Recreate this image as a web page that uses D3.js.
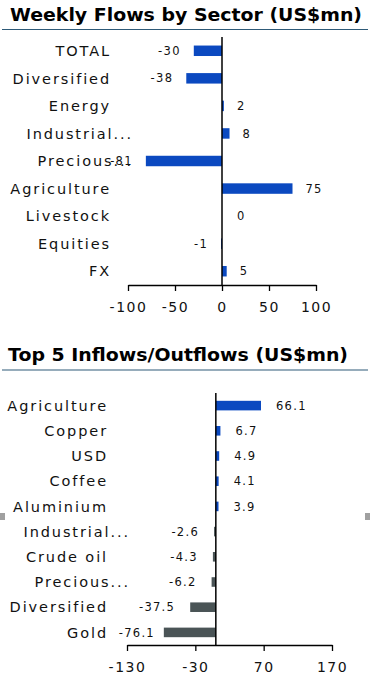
<!DOCTYPE html>
<html>
  <head>
    <meta charset="utf-8">
    <title>Weekly Flows by Sector</title>
    <script src="https://cdn.jsdelivr.net/npm/d3@7"></script>
    <style>
      body { margin: 0; background: white; }
      .title {
        font-family: 'DejaVu Sans';
        font-size: 18px;
        font-weight: bold;
        fill: #000;
      }
      .rule { stroke: #2e5a78; stroke-width: 1.2; }
      .cat {
        font-family: 'DejaVu Sans';
        font-size: 14.5px;
        letter-spacing: 1.9px;
        fill: #111;
        text-anchor: end;
      }
      .val {
        font-family: 'DejaVu Sans';
        font-size: 11.5px;
        letter-spacing: 1.3px;
        fill: #111;
      }
      .axis text {
        font-family: 'DejaVu Sans';
        font-size: 14px;
        letter-spacing: 1.5px;
        fill: #111;
      }
      .axis path, .axis line { stroke: #000; stroke-width: 1.3; }
      .zero { stroke: #000; stroke-width: 1.5; }
    </style>
  </head>
  <body>
    <script>

      // weekly flows by sector
      var sectors = ["TOTAL", "Diversified", "Energy", "Industrial...", "Precious...",
                     "Agriculture", "Livestock", "Equities", "FX"];
      var sectorFlows = [-30, -38, 2, 8, -81, 75, 0, -1, 5];
      var sectorTicks = [-100, -50, 0, 50, 100];

      // top 5 inflows / outflows
      var assets = ["Agriculture", "Copper", "USD", "Coffee", "Aluminium",
                    "Industrial...", "Crude oil", "Precious...", "Diversified", "Gold"];
      var assetFlows = [66.1, 6.7, 4.9, 4.1, 3.9, -2.6, -4.3, -6.2, -37.5, -76.1];
      var assetTicks = [-130, -30, 70, 170];

      var width = 370, height = 677;
      var blue = "#0b49c0", grey = "#4a5456";

      var svg = d3.select("body").append("svg")
        .attr("width", width)
        .attr("height", height);

      // hyphen instead of unicode minus, like the source sheet
      function hyphen(f) {
        return function(v) { return f(v).replace("\u2212", "-"); };
      }

      function panel(opt) {
        var g = svg.append("g");

        g.append("text")
          .attr("class", "title")
          .attr("x", opt.titleX)
          .attr("y", opt.titleY)
          .attr("textLength", opt.titleW)
          .attr("lengthAdjust", "spacingAndGlyphs")
          .text(opt.title);
        g.append("line")
          .attr("class", "rule")
          .attr("x1", 2).attr("x2", 368)
          .attr("y1", opt.ruleY).attr("y2", opt.ruleY);

        var data = opt.cats.map(function(c, i) { return { cat: c, v: opt.vals[i] }; });

        var x = d3.scaleLinear()
          .domain(d3.extent(opt.ticks))
          .range(opt.xRange);
        var y = d3.scaleBand()
          .domain(opt.cats)
          .range(opt.yRange)
          .paddingInner(0.62)
          .paddingOuter(0.31);

        g.selectAll("rect.bar").data(data).enter().append("rect")
          .attr("class", "bar")
          .attr("x", function(d) { return x(Math.min(0, d.v)); })
          .attr("y", function(d) { return y(d.cat); })
          .attr("width", function(d) { return Math.abs(x(d.v) - x(0)); })
          .attr("height", y.bandwidth())
          .attr("fill", function(d) { return opt.color(d); });

        g.selectAll("text.cat").data(data).enter().append("text")
          .attr("class", "cat")
          .attr("x", function(d) { return opt.labelX + (/\.\.\.$/.test(d.cat) ? 22 : 0); })
          .attr("y", function(d) { return y(d.cat) + y.bandwidth() / 2; })
          .attr("dy", "0.36em")
          .text(function(d) { return d.cat; });

        g.selectAll("text.val").data(data).enter().append("text")
          .attr("class", "val")
          .attr("text-anchor", function(d) { return d.v < 0 ? "end" : "start"; })
          .attr("x", function(d) {
            if (d.v < 0) return Math.max(x(d.v) - opt.gap, opt.minValX);
            return Math.max(x(d.v), x(0) + 2) + opt.gap;
          })
          .attr("y", function(d) { return y(d.cat) + y.bandwidth() / 2; })
          .attr("dy", "0.36em")
          .text(function(d) { return opt.fmt(d.v); });

        var axis = d3.axisBottom(x)
          .tickValues(opt.ticks)
          .tickSizeInner(6)
          .tickSizeOuter(0)
          .tickFormat(function(d) { return d; });
        g.append("g")
          .attr("class", "axis")
          .attr("transform", "translate(0," + opt.yRange[1] + ")")
          .call(axis)
          .call(function(a) { a.selectAll("text").attr("dy", "1.25em"); });

        g.append("line")
          .attr("class", "zero")
          .attr("x1", x(0)).attr("x2", x(0))
          .attr("y1", opt.yRange[0]).attr("y2", opt.yRange[1]);
      }

      panel({
        title: "Weekly Flows by Sector (US$mn)",
        titleX: 10, titleY: 21, titleW: 352, ruleY: 29.5,
        cats: sectors, vals: sectorFlows, ticks: sectorTicks,
        xRange: [128, 316], yRange: [37, 285],
        labelX: 111, gap: 13, minValX: 0,
        color: function() { return blue; },
        fmt: hyphen(d3.format("d"))
      });

      panel({
        title: "Top 5 Inflows/Outflows (US$mn)",
        titleX: 8, titleY: 361, titleW: 340, ruleY: 370,
        cats: assets, vals: assetFlows, ticks: assetTicks,
        xRange: [127, 332], yRange: [393, 645],
        labelX: 108, gap: 15, minValX: 155,
        color: function(d) { return d.v < 0 ? grey : blue; },
        fmt: hyphen(d3.format(".1f"))
      });

      // chart selection handles
      svg.selectAll("rect.handle").data([0, 365]).enter().append("rect")
        .attr("class", "handle")
        .attr("x", function(d) { return d; })
        .attr("y", 513)
        .attr("width", 5).attr("height", 7)
        .attr("fill", "#a0a0a0");

    </script>
  </body>
</html>
